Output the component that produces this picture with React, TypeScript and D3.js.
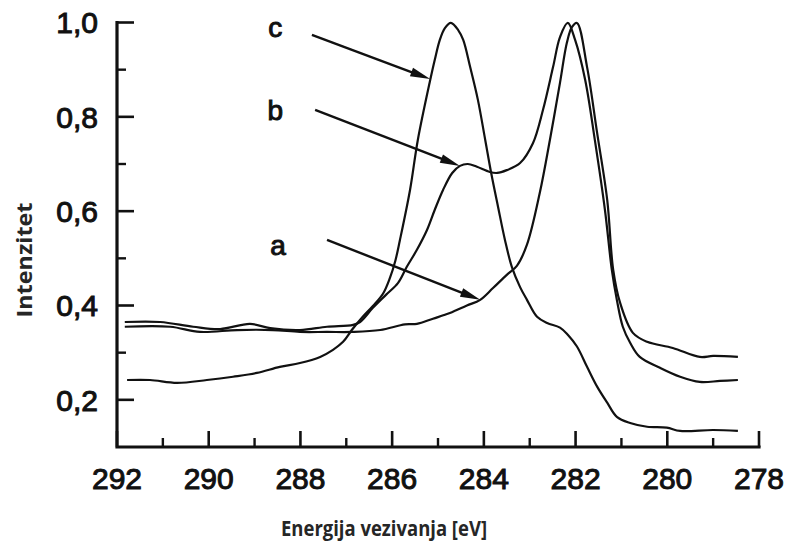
import * as d3 from "d3";

const width = 788;
const height = 546;

// binding energy (eV) / normalised intensity
const energyA = [291.83, 290.84, 290.19, 289.38, 288.6, 288.01, 287.42, 286.85, 286.26, 285.72, 285.46, 285.11, 284.74, 284.37, 284.08, 283.8, 283.5, 283.28, 283.06, 282.78, 282.56, 282.34, 282.19, 282.08, 281.97, 281.75, 281.53, 281.31, 281.18, 281.03, 280.75, 280.44, 279.88, 279.29, 279.0, 278.46];
const intensityA = [0.355, 0.355, 0.344, 0.348, 0.348, 0.344, 0.344, 0.344, 0.348, 0.36, 0.361, 0.372, 0.384, 0.4, 0.412, 0.437, 0.465, 0.484, 0.529, 0.639, 0.751, 0.872, 0.957, 0.99, 0.999, 0.906, 0.766, 0.624, 0.476, 0.406, 0.342, 0.323, 0.31, 0.291, 0.293, 0.291];

const energyB = [291.83, 291.06, 290.34, 289.75, 289.1, 288.66, 288.01, 287.42, 286.85, 286.7, 286.42, 286.13, 285.87, 285.68, 285.46, 285.24, 285.07, 284.89, 284.69, 284.52, 284.35, 284.15, 283.87, 283.71, 283.5, 283.21, 282.93, 282.71, 282.49, 282.34, 282.17, 282.01, 281.79, 281.58, 281.36, 281.21, 281.1, 280.97, 280.81, 280.6, 280.16, 279.72, 279.29, 278.85, 278.46];
const intensityB = [0.365, 0.365, 0.355, 0.35, 0.361, 0.352, 0.348, 0.355, 0.359, 0.365, 0.395, 0.423, 0.448, 0.482, 0.518, 0.56, 0.603, 0.645, 0.681, 0.696, 0.7, 0.694, 0.683, 0.681, 0.687, 0.702, 0.744, 0.815, 0.906, 0.969, 0.999, 0.963, 0.878, 0.751, 0.603, 0.476, 0.412, 0.355, 0.321, 0.291, 0.268, 0.249, 0.238, 0.24, 0.242];

const energyC = [291.78, 291.28, 290.69, 290.04, 289.47, 288.95, 288.45, 288.01, 287.57, 287.29, 287.07, 286.88, 286.66, 286.42, 286.2, 286.05, 285.93, 285.83, 285.61, 285.44, 285.17, 285.07, 284.96, 284.85, 284.72, 284.56, 284.45, 284.3, 284.13, 283.97, 283.84, 283.69, 283.54, 283.39, 283.21, 283.06, 282.84, 282.62, 282.34, 282.17, 281.97, 281.75, 281.53, 281.31, 281.1, 280.81, 280.44, 280.01, 279.72, 279.0, 278.46];
const intensityC = [0.242, 0.242, 0.236, 0.242, 0.249, 0.257, 0.27, 0.278, 0.291, 0.306, 0.323, 0.348, 0.374, 0.399, 0.425, 0.458, 0.495, 0.539, 0.645, 0.751, 0.878, 0.921, 0.963, 0.988, 0.999, 0.984, 0.963, 0.906, 0.836, 0.751, 0.681, 0.609, 0.539, 0.482, 0.439, 0.412, 0.376, 0.363, 0.353, 0.338, 0.313, 0.27, 0.228, 0.194, 0.164, 0.151, 0.143, 0.141, 0.134, 0.136, 0.134];

// curve labels and the arrows pointing at each curve (energy, intensity)
const labelNames = ["c", "b", "a"];
const labelPos: [number, number][] = [[288.55, 0.969], [288.55, 0.793], [288.49, 0.507]];
const arrowFrom: [number, number][] = [[287.75, 0.974], [287.68, 0.815], [287.42, 0.539]];
const arrowTip: [number, number][] = [[285.17, 0.88], [284.52, 0.696], [284.08, 0.412]];

const xMajor = [292, 290, 288, 286, 284, 282, 280, 278];
const xMinor = [291, 289, 287, 285, 283, 281, 279];
const yMajor = [0.2, 0.4, 0.6, 0.8, 1.0];
const yMinor = [0.3, 0.5, 0.7, 0.9];

const x = d3.scaleLinear().domain([292, 278]).range([117, 759]);
const y = d3.scaleLinear().domain([0.1, 1.0]).range([447, 22.5]);

const line = d3
  .line<[number, number]>()
  .x((d) => x(d[0]))
  .y((d) => y(d[1]))
  .curve(d3.curveCatmullRom.alpha(0.5));

const toPoints = (e: number[], v: number[]) =>
  e.map((d, i) => [d, v[i]] as [number, number]);

const series = [
  toPoints(energyA, intensityA),
  toPoints(energyB, intensityB),
  toPoints(energyC, intensityC),
];

const fmtY = (v: number) => d3.format(".1f")(v).replace(".", ",");

const Arrow = ({ from, tip }: { from: [number, number]; tip: [number, number] }) => {
  const x0 = x(from[0]);
  const y0 = y(from[1]);
  const x1 = x(tip[0]);
  const y1 = y(tip[1]);
  const len = Math.hypot(x1 - x0, y1 - y0);
  const ux = (x1 - x0) / len;
  const uy = (y1 - y0) / len;
  const head = 20;
  const half = 4.5;
  const bx = x1 - ux * head;
  const by = y1 - uy * head;
  const pts = [
    [x1, y1],
    [bx - uy * half, by + ux * half],
    [bx + uy * half, by - ux * half],
  ];
  return (
    <g>
      <line x1={x0} y1={y0} x2={bx + ux * 2} y2={by + uy * 2} stroke="#111" strokeWidth={2.4} />
      <polygon points={pts.map((p) => p.join(",")).join(" ")} fill="#111" />
    </g>
  );
};

export default function App() {
  const x0 = x.range()[0];
  const x1 = x.range()[1];
  const yb = y(0.1);
  const yt = y(1.0);
  const tickFont = "'Liberation Sans', Arial, Helvetica, sans-serif";
  const titleFont = "'Open Sans', 'Noto Sans', sans-serif";

  return (
    <svg
      width={width}
      height={height}
      viewBox={`0 0 ${width} ${height}`}
      style={{ position: "absolute", left: 0, top: 0, background: "#fff" }}
    >
      <rect width={width} height={height} fill="#fff" />

      {series.map((s, i) => (
        <path
          key={i}
          d={line(s) as string}
          fill="none"
          stroke="#111"
          strokeWidth={2.2}
          strokeLinejoin="round"
        />
      ))}

      {labelNames.map((name, i) => (
        <g key={name}>
          <text
            x={x(labelPos[i][0])}
            y={y(labelPos[i][1])}
            textAnchor="middle"
            fontFamily={tickFont}
            fontSize={28}
            fill="#111"
            stroke="#111"
            strokeWidth={1}
          >
            {name}
          </text>
          <Arrow from={arrowFrom[i]} tip={arrowTip[i]} />
        </g>
      ))}

      {/* axes */}
      <path
        d={`M${x0},${yt}V${yb}H${x1}`}
        fill="none"
        stroke="#111"
        strokeWidth={3.2}
        strokeLinecap="square"
      />
      {xMajor.map((v) => (
        <line key={v} x1={x(v)} x2={x(v)} y1={yb} y2={yb - 16} stroke="#111" strokeWidth={2.6} />
      ))}
      {xMinor.map((v) => (
        <line key={v} x1={x(v)} x2={x(v)} y1={yb} y2={yb - 9} stroke="#111" strokeWidth={2.4} />
      ))}
      {yMajor.map((v) => (
        <line key={v} x1={x0} x2={x0 + 17} y1={y(v)} y2={y(v)} stroke="#111" strokeWidth={2.6} />
      ))}
      {yMinor.map((v) => (
        <line key={v} x1={x0} x2={x0 + 9} y1={y(v)} y2={y(v)} stroke="#111" strokeWidth={2.4} />
      ))}

      {xMajor.map((v) => (
        <text
          key={v}
          x={x(v)}
          y={yb + 42}
          textAnchor="middle"
          fontFamily={tickFont}
          fontSize={30}
          fill="#111"
          stroke="#111"
          strokeWidth={1}
        >
          {v}
        </text>
      ))}
      {yMajor.map((v) => (
        <text
          key={v}
          x={x0 - 19}
          y={y(v)}
          dy="0.36em"
          textAnchor="end"
          fontFamily={tickFont}
          fontSize={30}
          fill="#111"
          stroke="#111"
          strokeWidth={1}
        >
          {fmtY(v)}
        </text>
      ))}

      <text
        x={384}
        y={536}
        textAnchor="middle"
        fontFamily={titleFont}
        fontWeight="bold"
        fontSize={22}
        fill="#262626"
        textLength={206}
        lengthAdjust="spacingAndGlyphs"
      >
        Energija vezivanja [eV]
      </text>
      <text
        transform="translate(32,260) rotate(-90)"
        textAnchor="middle"
        fontFamily={titleFont}
        fontWeight="bold"
        fontSize={22}
        fill="#262626"
        textLength={115}
        lengthAdjust="spacingAndGlyphs"
      >
        Intenzitet
      </text>
    </svg>
  );
}
